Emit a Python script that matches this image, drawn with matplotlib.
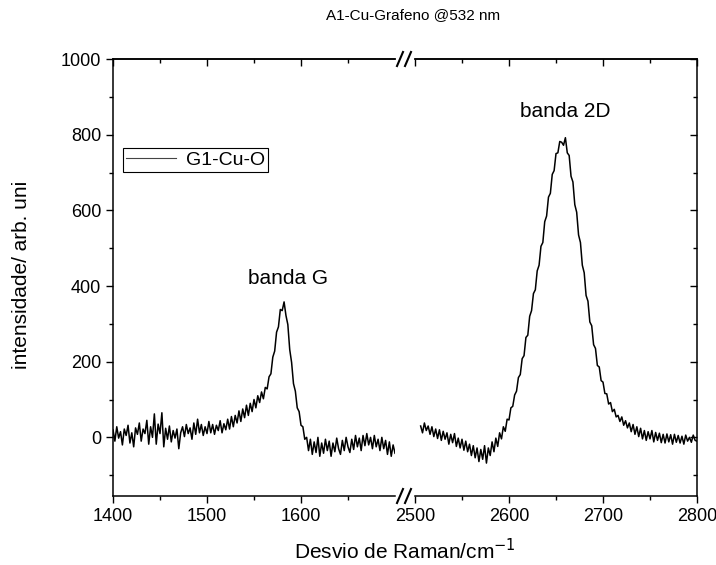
import numpy as np
import matplotlib
matplotlib.use("Agg")
import matplotlib.pyplot as plt
from matplotlib.lines import Line2D

plt.rcParams['font.family'] = ['Liberation Sans', 'DejaVu Sans']

# Raman spectrum G1-Cu-O (step 2 cm^-1)
# left segment: 1400 .. 1700
y_left = [
    20, -10, 28, -2, 15, -20, 22, 5, 32, -15,
    12, -25, 25, 8, 38, -10, 22, 10, 45, -18,
    28, 0, 62, -18, 35, 10, 65, -25, 24, -5,
    30, -12, 18, -2, 22, -30, 12, 28, 2, 34,
    10, 25, -5, 38, 8, 48, 12, 34, 5, 28,
    10, 42, 12, 34, 8, 32, 18, 44, 12, 36,
    20, 48, 22, 55, 28, 58, 38, 70, 42, 75,
    52, 85, 58, 90, 68, 100, 78, 110, 92, 120,
    102, 132, 128, 160, 168, 212, 228, 278, 292, 338,
    335, 358, 322, 298, 232, 198, 142, 122, 78, 68,
    32, 28, -5, 0, -35, -5, -45, -12, -40, 0,
    -50, -15, -42, -5, -35, -10, -50, -15, -38, -2,
    -30, -45, -8, -35, 0, -25, -40, -5, -32, 5,
    -25, -2, -35, 5, -22, 10, -20, 0, -30, 5,
    -25, -5, -35, 0, -30, -8, -45, -12, -50, -20,
    -42,
]
x_left = np.arange(1400, 1400 + 2 * len(y_left), 2)

# right segment: 2506 .. 2800
y_right = [
    30, 12, 38, 18, 30, 8, 28, 2, 22, -3,
    20, -8, 16, -5, 12, -18, 8, -14, 10, -24,
    -2, -28, -5, -34, -10, -38, -18, -48, -22, -54,
    -28, -64, -32, -58, -22, -68, -28, -48, -12, -38,
    -2, -24, 12, -4, 28, 16, 48, 46, 78, 82,
    112, 122, 158, 166, 208, 216, 264, 270, 320, 335,
    380, 390, 440, 455, 505, 515, 570, 585, 635, 645,
    695, 705, 750, 752, 782, 780, 772, 792, 752, 745,
    690, 675, 615, 595, 535, 515, 455, 435, 375, 360,
    305, 295, 245, 235, 190, 186, 150, 146, 116, 115,
    88, 92, 68, 74, 54, 58, 42, 54, 32, 44,
    25, 38, 15, 34, 8, 28, 2, 24, -4, 18,
    -8, 15, -4, 18, -12, 13, -8, 11, -14, 8,
    -15, 9, -12, 7, -18, 8, -13, 5, -15, 3,
    -18, 6, -10, 0, -13, 6, -8, -10,
]
x_right = np.arange(2506, 2506 + 2 * len(y_right), 2)

W, H = 716, 565
fig = plt.figure(figsize=(W / 100, H / 100), dpi=100)

bottom_px, top_px = 496, 59
b = 1 - bottom_px / H
h = (bottom_px - top_px) / H
ax1 = fig.add_axes([113 / W, b, (395 - 113) / W, h])
ax2 = fig.add_axes([415 / W, b, (697 - 415) / W, h])

ax1.plot(x_left, y_left, color='black', lw=1.1, label='G1-Cu-O')
ax2.plot(x_right, y_right, color='black', lw=1.1)

ax1.set_xlim(1400, 1700)
ax2.set_xlim(2500, 2800)
for ax in (ax1, ax2):
    ax.set_ylim(-155, 1000)
    ax.set_yticks(np.arange(0, 1001, 200))
    ax.set_yticks(np.arange(-100, 1000, 200), minor=True)

ax1.set_xticks([1400, 1500, 1600])
ax1.set_xticks([1450, 1550, 1650], minor=True)
ax2.set_xticks([2500, 2600, 2700, 2800])
ax2.set_xticks([2550, 2650, 2750], minor=True)

ax1.spines['right'].set_visible(False)
ax2.spines['left'].set_visible(False)

ax1.tick_params(axis='y', which='both', direction='out', left=True, right=False,
                labelsize=13)
ax2.tick_params(axis='y', which='both', direction='in', left=False, right=True,
                labelleft=False)
for ax in (ax1, ax2):
    ax.tick_params(axis='x', which='both', direction='out', labelsize=13)
    ax.tick_params(which='major', length=5, width=1)
    ax.tick_params(which='minor', length=3, width=1)
    for s in ax.spines.values():
        s.set_linewidth(1.1)
    top = ax.secondary_xaxis('top')
    top.set_xticks(ax.get_xticks())
    top.set_xticks(ax.get_xticks(minor=True), minor=True)
    top.tick_params(which='both', direction='in', labeltop=False)
    top.tick_params(which='major', length=5, width=1)
    top.tick_params(which='minor', length=3, width=1)
    top.spines['top'].set_linewidth(1.1)

# break marks
for yp in (bottom_px, top_px):
    for xp in (397, 405):
        fig.add_artist(Line2D([xp / W, (xp + 6) / W],
                              [1 - (yp + 7) / H, 1 - (yp - 7) / H],
                              color='black', lw=1.5))

ax1.text(1586, 420, 'banda G', ha='center', va='center', fontsize=15)
ax2.text(2660, 860, 'banda 2D', ha='center', va='center', fontsize=15)

leg = ax1.legend(loc='upper left', bbox_to_anchor=(0.035, 0.796), borderaxespad=0,
                 fancybox=False, framealpha=1, edgecolor='black', fontsize=14,
                 handlelength=2.6, borderpad=0.15, handletextpad=0.5)
leg.get_frame().set_linewidth(0.8)
leg.get_lines()[0].set_color('#444444')
leg.get_lines()[0].set_linewidth(0.8)

fig.text(413 / W, 1 - 15 / H, 'A1-Cu-Grafeno @532 nm', ha='center', va='center',
         fontsize=11)
fig.text(405 / W, 1 - 551 / H, 'Desvio de Raman/cm$^{-1}$', ha='center',
         va='center', fontsize=15)
fig.text(22 / W, 1 - 275 / H, 'intensidade/ arb. uni', ha='center', va='center',
         rotation=90, fontsize=15)

fig.savefig('out.png', dpi=100)
